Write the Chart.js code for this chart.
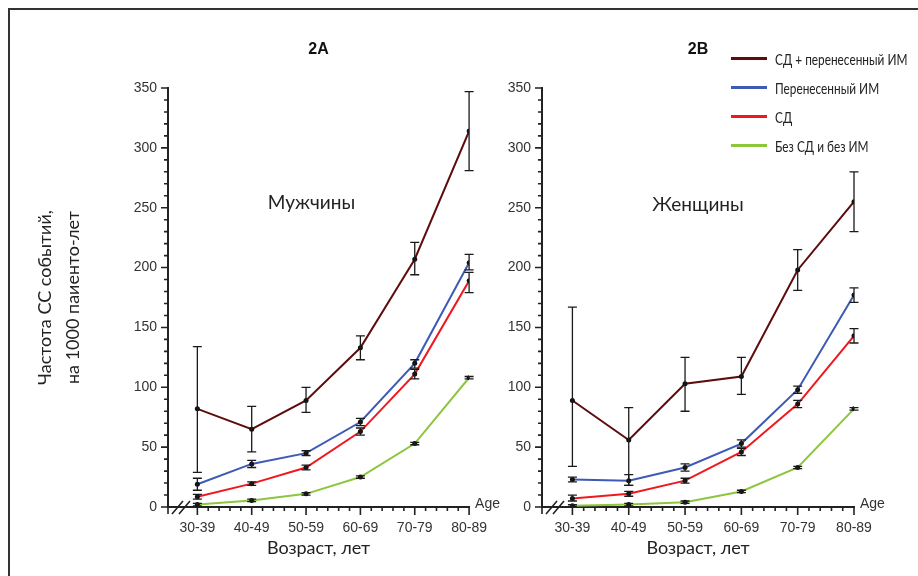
<!DOCTYPE html>
<html>
<head>
<meta charset="utf-8">
<script src="https://cdn.jsdelivr.net/npm/chart.js@4.4.1/dist/chart.umd.min.js"></script>
<style>
	body { margin: 0; background: #fff; width: 918px; height: 576px; overflow: hidden; position: relative; }
	#frame { position: absolute; left: 8px; top: 8px; width: 940px; height: 600px; border-top: 2px solid #333; border-left: 2px solid #333; }
	canvas { position: absolute; top: 0; }
	#c1 { left: 0; }
	#c2 { left: 500px; }
	#legend { position: absolute; left: 731px; top: 44px; width: 187px; font: 16px "Lato", sans-serif; color: #222; white-space: nowrap; }
	.item { display: flex; align-items: center; height: 29px; }
	.swatch { width: 36px; height: 3px; margin-right: 8px; flex: none; }
	.txt { display: inline-block; transform: scaleX(0.74); transform-origin: left center; }
</style>
</head>
<body>
<div id="frame"></div>
<canvas id="c1" width="500" height="576"></canvas>
<canvas id="c2" width="418" height="576"></canvas>
<div id="legend"></div>
<script>
// categories
var ages = ["30-39", "40-49", "50-59", "60-69", "70-79", "80-89"];
var seriesNames = ["СД + перенесенный ИМ", "Перенесенный ИМ", "СД", "Без СД и без ИМ"];
var seriesColors = ["#5e0c0c", "#3d5bb5", "#f0181f", "#8cc63e"];
var yTicks = [0, 50, 100, 150, 200, 250, 300, 350];

// 2A - men: value, upper and lower error bar
var menDiabMI   = [82, 65, 89, 133, 207, 314];
var menDiabMIHi = [134, 84, 100, 143, 221, 347];
var menDiabMILo = [29, 46, 79, 123, 194, 281];
var menMI       = [19, 36, 45, 71, 120, 204];
var menMIHi     = [24, 39, 47, 74, 123, 211];
var menMILo     = [14, 33, 43, 68, 116, 198];
var menDiab     = [8.5, 19.5, 33, 63, 111, 189];
var menDiabHi   = [10.5, 21, 35, 66, 115, 196];
var menDiabLo   = [6.5, 18, 31, 60, 107, 179];
var menNone     = [2, 5.5, 11, 25, 53, 108];
var menNoneHi   = [3, 6.5, 12, 26, 54, 109];
var menNoneLo   = [1, 4.5, 10, 24, 52, 107];

// 2B - women
var womDiabMI   = [89, 56, 103, 109, 198, 255];
var womDiabMIHi = [167, 83, 125, 125, 215, 280];
var womDiabMILo = [34, 18, 80, 94, 181, 230];
var womMI       = [23, 22, 33, 53, 98, 177];
var womMIHi     = [25, 27, 36, 56, 101, 183];
var womMILo     = [21, 18, 30, 50, 95, 171];
var womDiab     = [7, 11, 22, 46, 86, 143];
var womDiabHi   = [10, 13, 24, 49, 89, 149];
var womDiabLo   = [5, 9, 20, 43, 83, 137];
var womNone     = [1, 2, 4, 13, 33, 82];
var womNoneHi   = [2, 3, 5, 14, 34, 83];
var womNoneLo   = [0.5, 1, 3, 12, 32, 81];

Chart.defaults.font.family = "'Liberation Sans', Arial, sans-serif";
Chart.defaults.font.size = 14;
Chart.defaults.color = "#333";

function makeSet(i, vals, hi, lo) {
	return {
		label : seriesNames[i],
		data : vals.map(function(v, k) { return { x : k, y : v }; }),
		errHi : hi,
		errLo : lo,
		borderColor : seriesColors[i],
		borderWidth : 2,
		tension : 0,
		fill : false,
		pointRadius : 2.5,
		pointBackgroundColor : "#111",
		pointBorderWidth : 0
	};
}

// error bars, minor ticks, axis break, panel texts
var decor = {
	id : "decor",
	afterDatasetsDraw : function(chart, args, opts) {
		var ctx = chart.ctx, a = chart.chartArea, x = chart.scales.x, y = chart.scales.y;
		var y0 = y.getPixelForValue(0);
		ctx.save();
		ctx.strokeStyle = "#1a1a1a";
		ctx.lineWidth = 1.3;
		chart.data.datasets.forEach(function(ds) {
			ds.data.forEach(function(p, i) {
				var px = x.getPixelForValue(p.x);
				var t = y.getPixelForValue(ds.errHi[i]);
				var b = y.getPixelForValue(ds.errLo[i]);
				ctx.beginPath();
				ctx.moveTo(px, t); ctx.lineTo(px, b);
				ctx.moveTo(px - 4.5, t); ctx.lineTo(px + 4.5, t);
				ctx.moveTo(px - 4.5, b); ctx.lineTo(px + 4.5, b);
				ctx.stroke();
			});
		});

		ctx.strokeStyle = "#222";
		ctx.lineWidth = 1.6;
		ctx.beginPath();
		for (var v = 0; v <= 350; v += 10) {
			var py = y.getPixelForValue(v);
			ctx.moveTo(a.left - (v % 50 === 0 ? 7 : 4), py);
			ctx.lineTo(a.left, py);
		}
		for (var i = 0; i < ages.length; i++) {
			var mx = x.getPixelForValue(i);
			ctx.moveTo(mx, y0); ctx.lineTo(mx, y0 + 8);
			if (i < ages.length - 1) {
				for (var k = 1; k < 5; k++) {
					var sx = x.getPixelForValue(i + k / 5);
					ctx.moveTo(sx, y0); ctx.lineTo(sx, y0 + 4);
				}
			}
		}
		ctx.moveTo(a.left, y0); ctx.lineTo(a.left, y0 + 7);
		// break mark
		ctx.moveTo(a.left + 4, y0 + 7); ctx.lineTo(a.left + 15, y0 - 6);
		ctx.moveTo(a.left + 11, y0 + 7); ctx.lineTo(a.left + 22, y0 - 6);
		ctx.stroke();

		ctx.fillStyle = "#111";
		ctx.textAlign = "center";
		ctx.textBaseline = "middle";
		ctx.font = "bold 16px 'Liberation Sans', Arial, sans-serif";
		ctx.fillText(opts.title, (a.left + a.right) / 2, 50);
		ctx.font = "19px Lato, sans-serif";
		ctx.fillStyle = "#222";
		ctx.fillText(opts.label, x.getPixelForValue(opts.labelX), y.getPixelForValue(opts.labelY));
		ctx.font = "14px 'Liberation Sans', Arial, sans-serif";
		ctx.fillStyle = "#333";
		ctx.textAlign = "left";
		ctx.fillText("Age", a.right + 6, y0 - 3);
		ctx.restore();
	}
};

function makeOptions(d, yTitle, yWidth, padRight) {
	return {
		responsive : false,
		animation : false,
		events : [],
		layout : { padding : { top : 88, right : padRight, bottom : 0, left : 0 } },
		plugins : { legend : { display : false }, tooltip : { enabled : false }, decor : d },
		scales : {
			x : {
				type : "linear",
				min : -0.54,
				max : 5,
				grid : { drawOnChartArea : false, drawTicks : false },
				border : { display : true, color : "#222", width : 2 },
				afterBuildTicks : function(s) { s.ticks = ages.map(function(a, i) { return { value : i }; }); },
				afterFit : function(s) { s.height = 69; },
				ticks : { padding : 13, autoSkip : false, maxRotation : 0, callback : function(v) { return ages[v]; } },
				title : { display : true, text : "Возраст, лет", color : "#222", font : { family : "Lato", size : 18 }, padding : { top : 0, bottom : 17 } }
			},
			y : {
				min : 0,
				max : 350,
				grid : { drawOnChartArea : false, drawTicks : false },
				border : { display : true, color : "#222", width : 2 },
				afterBuildTicks : function(s) { s.ticks = yTicks.map(function(v) { return { value : v }; }); },
				afterFit : function(s) { s.width = yWidth; },
				ticks : { padding : 11 },
				title : yTitle
			}
		}
	};
}

new Chart(document.getElementById("c1"), {
	type : "line",
	data : { datasets : [
		makeSet(0, menDiabMI, menDiabMIHi, menDiabMILo),
		makeSet(1, menMI, menMIHi, menMILo),
		makeSet(2, menDiab, menDiabHi, menDiabLo),
		makeSet(3, menNone, menNoneHi, menNoneLo)
	] },
	options : makeOptions({ title : "2A", label : "Мужчины", labelX : 2.1, labelY : 254 },
		{ display : true, text : ["Частота СС событий,", "на 1000 паиенто-лет"], color : "#222",
		  font : { family : "Lato", size : 18, lineHeight : 1.55 }, padding : { top : 31, bottom : 0 } },
		168, 22),
	plugins : [decor]
});

new Chart(document.getElementById("c2"), {
	type : "line",
	data : { datasets : [
		makeSet(0, womDiabMI, womDiabMIHi, womDiabMILo),
		makeSet(1, womMI, womMIHi, womMILo),
		makeSet(2, womDiab, womDiabHi, womDiabLo),
		makeSet(3, womNone, womNoneHi, womNoneLo)
	] },
	options : makeOptions({ title : "2B", label : "Женщины", labelX : 2.23, labelY : 252 },
		{ display : false }, 42, 64),
	plugins : [decor]
});

// legend
var legend = document.getElementById("legend");
seriesNames.forEach(function(name, i) {
	var row = document.createElement("div");
	row.className = "item";
	row.innerHTML = '<span class="swatch" style="background:' + seriesColors[i] + '"></span><span class="txt">' + name + '</span>';
	legend.appendChild(row);
});
</script>
</body>
</html>
